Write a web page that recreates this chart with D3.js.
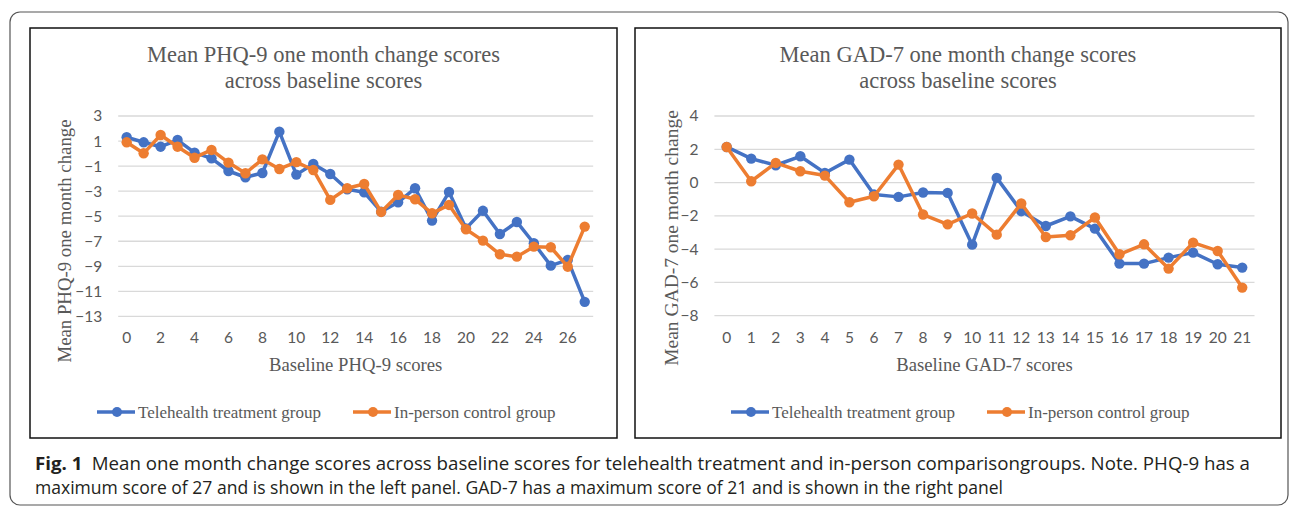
<!DOCTYPE html>
<html><head><meta charset="utf-8">
<script src="https://cdn.jsdelivr.net/npm/d3@7"></script>
<style>body{margin:0;background:#fff}svg{display:block}</style>
</head><body>
<svg id="c" width="1296" height="509"></svg>
<script>
const phqScores = d3.range(0, 28);
const phqTele = [1.30,0.90,0.55,1.08,0.07,-0.38,-1.39,-1.89,-1.55,1.75,-1.68,-0.83,-1.63,-2.85,-3.09,-4.64,-3.89,-2.77,-5.35,-3.07,-5.97,-4.57,-6.42,-5.46,-7.16,-8.95,-8.49,-11.84];
const phqInPerson = [0.90,0.02,1.48,0.55,-0.33,0.29,-0.72,-1.57,-0.46,-1.23,-0.68,-1.31,-3.70,-2.77,-2.43,-4.66,-3.30,-3.65,-4.77,-4.10,-6.04,-6.95,-8.04,-8.23,-7.43,-7.48,-9.03,-5.83];
const phqYTicks = [3,1,-1,-3,-5,-7,-9,-11,-13];

const gadScores = d3.range(0, 22);
const gadTele = [2.14,1.44,1.04,1.58,0.58,1.38,-0.72,-0.86,-0.60,-0.62,-3.73,0.28,-1.72,-2.61,-2.03,-2.77,-4.87,-4.87,-4.51,-4.21,-4.91,-5.11];
const gadInPerson = [2.14,0.08,1.18,0.68,0.42,-1.18,-0.82,1.08,-1.92,-2.51,-1.86,-3.13,-1.26,-3.27,-3.17,-2.10,-4.31,-3.71,-5.17,-3.61,-4.11,-6.31];
const gadYTicks = [4,2,0,-2,-4,-6,-8];

const seriesNames = ["Telehealth treatment group", "In-person control group"];
const colors = ["#4472C4", "#ED7D31"];

const svg = d3.select("#c");

// outer frame
svg.append("rect").attr("x",10).attr("y",12).attr("width",1278).attr("height",493)
  .attr("rx",10).attr("fill","none").attr("stroke","#555").attr("stroke-width",1.2);

function panel(cfg){
  const g = svg.append("g");
  g.append("rect").attr("x",cfg.box[0]).attr("y",cfg.box[1]).attr("width",cfg.box[2]).attr("height",cfg.box[3])
    .attr("fill","#fff").attr("stroke","#111").attr("stroke-width",1.5);
  const cx = cfg.box[0] + cfg.box[2]/2;
  const t = g.append("text").attr("x",cx).attr("text-anchor","middle")
    .attr("font-family","Liberation Serif").attr("font-size",22.5).attr("fill","#595959");
  t.append("tspan").attr("x",cx).attr("y",62).text(cfg.title[0]);
  t.append("tspan").attr("x",cx).attr("y",88).text(cfg.title[1]);

  const x = d3.scaleBand().domain(cfg.cats).range([cfg.plot[0], cfg.plot[1]]);
  const y = d3.scaleLinear().domain([cfg.yDom[0], cfg.yDom[1]]).range([cfg.plot[3], cfg.plot[2]]);

  g.append("g").selectAll("line").data(cfg.yTicks).join("line")
    .attr("x1",cfg.plot[0]).attr("x2",cfg.plot[1])
    .attr("y1",d=>y(d)).attr("y2",d=>y(d)).attr("stroke","#d9d9d9").attr("stroke-width",1.3);

  const yAxis = g.append("g").attr("transform",`translate(${cfg.plot[0]},0)`)
    .call(d3.axisLeft(y).tickValues(cfg.yTicks).tickSize(0).tickPadding(cfg.yPad));
  yAxis.select(".domain").remove();
  yAxis.selectAll("text").attr("font-family","Lato").attr("font-size",15.5).attr("fill","#595959");

  const xAxis = g.append("g").attr("transform",`translate(0,${cfg.plot[3]})`)
    .call(d3.axisBottom(x).tickValues(cfg.xTicks).tickSize(0).tickPadding(16));
  xAxis.select(".domain").remove();
  xAxis.selectAll("text").attr("font-family","Lato").attr("font-size",15.5).attr("fill","#595959");

  g.append("text").attr("x",(cfg.plot[0]+cfg.plot[1])/2).attr("y",371).attr("text-anchor","middle")
    .attr("font-family","Liberation Serif").attr("font-size",18.7).attr("fill","#595959").text(cfg.xTitle);
  g.append("text").attr("transform",`translate(${cfg.yTitleX},${cfg.yTitleY}) rotate(-90)`).attr("text-anchor","middle")
    .attr("font-family","Liberation Serif").attr("font-size",cfg.yTitleSize).attr("fill","#595959").text(cfg.yTitle);

  const line = d3.line().x((d,i)=>x(cfg.cats[i])+x.bandwidth()/2).y(d=>y(d));
  [0,1].forEach(si=>{
    const vals = cfg.series[si];
    g.append("path").datum(vals).attr("d",line).attr("fill","none")
      .attr("stroke",colors[si]).attr("stroke-width",3.5).attr("stroke-linejoin","round");
    g.append("g").selectAll("circle").data(vals).join("circle")
      .attr("cx",(d,i)=>x(cfg.cats[i])+x.bandwidth()/2).attr("cy",d=>y(d)).attr("r",5.2).attr("fill",colors[si]);
  });

  cfg.legend.forEach((lx,si)=>{
    g.append("line").attr("x1",lx).attr("x2",lx+38).attr("y1",412).attr("y2",412)
      .attr("stroke",colors[si]).attr("stroke-width",3.5);
    g.append("circle").attr("cx",lx+20).attr("cy",412).attr("r",5).attr("fill",colors[si]);
    g.append("text").attr("x",lx+41).attr("y",418).attr("font-family","Liberation Serif")
      .attr("font-size",17).attr("fill","#595959").text(seriesNames[si]);
  });
}

panel({
  box:[30,28,587,410], title:["Mean PHQ-9 one month change scores","across baseline scores"],
  cats:phqScores, plot:[118.2,593.2,116,316.4], yDom:[-13,3], yTicks:phqYTicks,
  xTicks:phqScores.filter(d=>d%2===0), series:[phqTele,phqInPerson], yPad:16,
  xTitle:"Baseline PHQ-9 scores", yTitle:"Mean PHQ-9 one month change", yTitleX:71, yTitleY:241, yTitleSize:18.8,
  legend:[97,353]
});
panel({
  box:[635,28,646,410], title:["Mean GAD-7 one month change scores","across baseline scores"],
  cats:gadScores, plot:[714.4,1254.5,116,315.7], yDom:[-8,4], yTicks:gadYTicks,
  xTicks:gadScores, series:[gadTele,gadInPerson], yPad:16,
  xTitle:"Baseline GAD-7 scores", yTitle:"Mean GAD-7 one month change", yTitleX:678, yTitleY:238, yTitleSize:19.5,
  legend:[731,987]
});

// caption
const cap = svg.append("text").attr("font-family","Open Sans").attr("font-size",18).attr("fill","#231f20");
const l1 = cap.append("tspan").attr("x",35).attr("y",470).attr("textLength",1215).attr("lengthAdjust","spacingAndGlyphs");
l1.append("tspan").attr("font-weight","bold").text("Fig. 1");
l1.append("tspan").attr("dx",9).text("Mean one month change scores across baseline scores for telehealth treatment and in-person comparisongroups. Note. PHQ-9 has a");
cap.append("tspan").attr("x",35).attr("y",494).attr("textLength",968).attr("lengthAdjust","spacingAndGlyphs")
  .text("maximum score of 27 and is shown in the left panel. GAD-7 has a maximum score of 21 and is shown in the right panel");
</script>
</body></html>
